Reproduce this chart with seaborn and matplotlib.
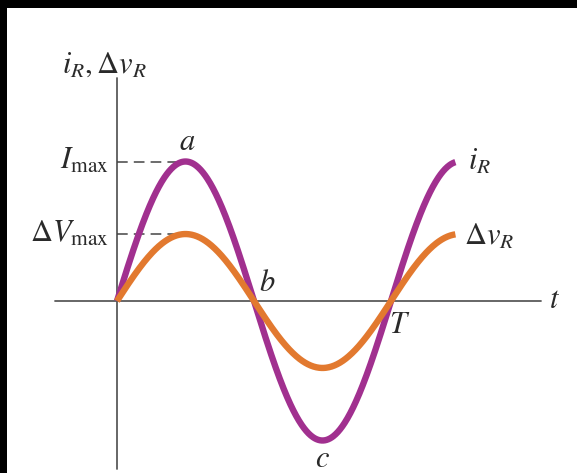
import numpy as np
import pandas as pd
import matplotlib
matplotlib.use("Agg")
import matplotlib.pyplot as plt
import seaborn as sns

# Waveform parameters (one period T = 1, current amplitude I_max = 1)
period = 1.0
amplitudes = [1.0, 0.48]          # i_R, Δv_R
series_names = ["i_R", "dv_R"]
series_colors = ["#A1308F", "#E2792F"]
t_end = 1.235                     # curves run a bit past one period

# Build the curves
t = np.linspace(0, t_end * period, 600)
frames = []
for name, amp in zip(series_names, amplitudes):
    frames.append(pd.DataFrame({"t": t, "value": amp * np.sin(2 * np.pi * t / period), "series": name}))
df = pd.concat(frames, ignore_index=True)

sns.set_theme(style="white")
plt.rcParams["mathtext.fontset"] = "stix"
plt.rcParams["font.family"] = ["STIXGeneral", "DejaVu Serif"]

W, H = 577, 473
left_px, top_px = 7, 8
fig = plt.figure(figsize=(W / 100, H / 100), dpi=100, facecolor="black")
# white drawing area inside a thin black frame
ax = fig.add_axes([left_px / W, 0, (W - left_px) / W, (H - top_px) / H])
ax.set_facecolor("white")
for sp in ax.spines.values():
    sp.set_visible(False)
ax.set_xticks([])
ax.set_yticks([])
ax.set_xlabel("")
ax.set_ylabel("")

# pixel scale: x0 = 117 px, one period = 274 px; y0 = 301 px, amplitude 1 = 139.5 px
xs, ys = 274.0, 139.5
ax.set_xlim((left_px - 117) / xs, (W - 117) / xs)
ax.set_ylim(-(H - 301) / ys, (301 - top_px) / ys)

# Axes lines
axis_color = "#5a5a5a"
ax.plot([(55 - 117) / xs, (541 - 117) / xs], [0, 0], color=axis_color, lw=1.3, zorder=1)
ax.plot([0, 0], [-(469 - 301) / ys, (301 - 78) / ys], color=axis_color, lw=1.3, zorder=1)

# Dashed guides to the peaks
peak_t = period / 4
for amp in amplitudes:
    ax.plot([0, peak_t - 0.02], [amp, amp], color="#444444", lw=1.1,
            dashes=(7, 4), zorder=1)

sns.lineplot(data=df, x="t", y="value", hue="series", palette=series_colors,
             hue_order=series_names, linewidth=4.6, legend=False, ax=ax,
             sort=False, zorder=3)
for ln in ax.get_lines()[-2:]:
    ln.set_solid_capstyle("butt")
ax.set_xlabel("")
ax.set_ylabel("")
ax.set_xlim((left_px - 117) / xs, (W - 117) / xs)
ax.set_ylim(-(H - 301) / ys, (301 - top_px) / ys)

fs = 22
txt = dict(color="#2a2a2a", fontsize=fs)
ax.text(-0.045, (301 - 66) / ys, r"$i_R, \Delta v_R$", ha="center", va="center", **txt)
ax.text(-0.03, amplitudes[0], r"$I_{\rm max}$", ha="right", va="center", **txt)
ax.text(-0.03, amplitudes[1], r"$\Delta V_{\rm max}$", ha="right", va="center", **txt)
ax.text(peak_t + 0.005, amplitudes[0] + 0.13, r"$a$", ha="center", va="center", **txt)
ax.text(period / 2 + 0.05, 0.12, r"$b$", ha="center", va="center", **txt)
ax.text(3 * period / 4, -amplitudes[0] - 0.14, r"$c$", ha="center", va="center", **txt)
ax.text(period + 0.03, -0.18, r"$T$", ha="center", va="center", **txt)
ax.text((549 - 117) / xs, 0, r"$t$", ha="left", va="center", **txt)
ax.text(t_end + 0.045, amplitudes[0] * np.sin(2 * np.pi * t_end) + 0.0, r"$i_R$",
        ha="left", va="center", **txt)
ax.text(t_end + 0.03, amplitudes[1] * np.sin(2 * np.pi * t_end) - 0.02, r"$\Delta v_R$",
        ha="left", va="center", **txt)

fig.savefig("out.png", dpi=100, facecolor=fig.get_facecolor())
